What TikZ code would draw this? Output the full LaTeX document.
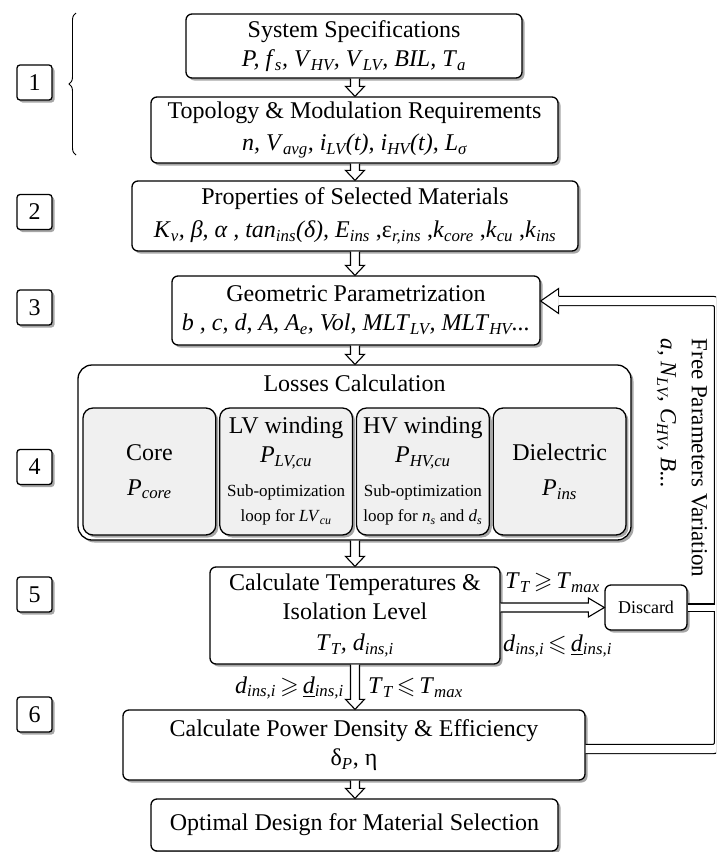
\documentclass[tikz,border=0pt]{standalone}
\usepackage{amsmath,amssymb}
\usepackage{fontspec}
\setmainfont{Liberation Serif}
\usetikzlibrary{calc,shadows,decorations.pathreplacing}
\newcommand\vv[1]{\textit{#1}}
\newcommand\sbs[1]{\ensuremath{_{\textit{#1}}}}
\newcommand\fs[2]{\fontsize{#1}{#2}\selectfont}
% hollow vertical arrow from #1 down to #2 at x of (ax)
\newcommand\hdown[2]{%
  \path ($(#1.south -| ax)$) coordinate (hA) ($(#2.north -| ax)$) coordinate (hB);
  \draw[harrow] ($(hA)+(-4.5,0)$) -- ($(hB)+(-4.5,-10)$) -- ($(hB)+(-9.5,-10)$) -- (hB)
     -- ($(hB)+(9.5,-10)$) -- ($(hB)+(4.5,-10)$) -- ($(hA)+(4.5,0)$);}
\begin{document}
\begin{tikzpicture}[x=1pt,y=-1pt,
  shade/.style={drop shadow={shadow xshift=2.5pt,shadow yshift=-2.5pt,opacity=.35,fill=black}},
  box/.style={draw,line width=1.3pt,rounded corners=6pt,fill=white,align=center,inner sep=0pt,font=\fs{24}{29},shade},
  subbox/.style={box,rounded corners=10pt,fill=gray!12},
  numbox/.style={draw,line width=1.3pt,rounded corners=3pt,fill=white,minimum width=35pt,minimum height=35pt,inner sep=0pt,font=\fs{24}{28},shade},
  txt/.style={inner sep=0pt,align=center,font=\fs{24}{29}},
  small/.style={inner sep=0pt,align=center,font=\fs{17}{25}},
  harrow/.style={draw,fill=white,line width=1.1pt,line join=miter},
  dbl/.style={line width=1.2pt,double=white}
]
\useasboundingbox (0,0) rectangle (716,852);
\clip (0,0) rectangle (716,852);
\fill[white] (0,0) rectangle (716,852);
\coordinate (ax) at (355,0);
\coordinate (lx) at (719,0);
\coordinate (lin) at (714.6,0);

% brace and step numbers
\draw[decorate,decoration={brace,amplitude=7pt},line width=0.9pt] (76,155) -- (76,13);
\node[numbox] (n1) at (34.5,82.5) {1};
\node[numbox] (n2) at (34.5,212) {2};
\node[numbox] (n3) at (34.5,307.5) {3};
\node[numbox] (n4) at (34.5,467) {4};
\node[numbox] (n5) at (34.5,594.5) {5};
\node[numbox] (n6) at (34.5,714.5) {6};

% main boxes
\node[box,minimum width=336pt,minimum height=64pt] (spec) at (354,46)
  {System Specifications\\\vv{P, f}\sbs{s}\vv{, V}\sbs{HV}\vv{, V}\sbs{LV}\vv{, BIL, T}\sbs{a}};
\node[box,minimum width=407pt,minimum height=66pt] (topo) at (354.5,130)
  {Topology \& Modulation Requirements\\[3pt]\vv{n, V}\sbs{avg}\vv{, i}\sbs{LV}\vv{(t), i}\sbs{HV}\vv{(t), L}\sbs{σ}};
\node[box,minimum width=446pt,minimum height=70pt] (prop) at (355,216)
  {Properties of Selected Materials\\[4pt]\vv{K}\sbs{v}\vv{, β, α , tan}\sbs{ins}\vv{(δ), E}\sbs{ins} ,ε\sbs{r,ins} ,\vv{k}\sbs{core} ,\vv{k}\sbs{cu} ,\vv{k}\sbs{ins}};
\node[box,minimum width=368pt,minimum height=69pt] (geom) at (356,310.5)
  {Geometric Parametrization\\\vv{b , c, d, A, A}\sbs{e}\vv{, Vol, MLT}\sbs{LV}\vv{, MLT}\sbs{HV}\vv{...}};

% losses
\node[box,rounded corners=14pt,minimum width=553pt,minimum height=175pt] (loss) at (354.5,452.5) {};
\node[txt] (losst) at (354.5,383) {Losses Calculation};
\node[subbox,minimum width=132.75pt,minimum height=127pt] (core) at (149.4,471.5) {Core\\[6pt]\vv{P}\sbs{core}};
\node[subbox,minimum width=132.75pt,minimum height=127pt] (lv) at (286.1,471.5) {};
\node[subbox,minimum width=132.75pt,minimum height=127pt] (hv) at (422.9,471.5) {};
\node[subbox,minimum width=132.75pt,minimum height=127pt] (diel) at (559.6,471.5) {Dielectric\\[6pt]\vv{P}\sbs{ins}};
\node[txt] (lvt) at (286.1,443) {LV winding\\\vv{P}\sbs{LV,cu}};
\node[small] (lvs) at (286.1,505) {Sub-optimization\\loop for \vv{LV}\sbs{cu}};
\node[txt] (hvt) at (422.9,443) {HV winding\\\vv{P}\sbs{HV,cu}};
\node[small] (hvs) at (422.9,505) {Sub-optimization\\loop for \vv{n}\sbs{s} and \vv{d}\sbs{s}};

\node[box,minimum width=290pt,minimum height=97pt] (temp) at (355,615.5)
  {Calculate Temperatures \&\\Isolation Level\\[2pt]\vv{T}\sbs{T}\vv{, d}\sbs{ins,i}};
\node[box,font=\fs{18}{20},minimum width=82pt,minimum height=45pt] (disc) at (646,607.5) {Discard};
\node[box,minimum width=462pt,minimum height=70pt] (power) at (354,745)
  {Calculate Power Density \& Efficiency\\δ\sbs{P}, η};
\node[box,minimum width=407pt,minimum height=52pt] (opt) at (354.5,825) {Optimal Design for Material Selection};

% labels
\node[txt,anchor=west] (lt1) at (505,583) {\vv{T}\sbs{T}\,$\geqslant$\,\vv{T}\sbs{max}};
\node[txt,anchor=west] (lt2) at (503,646) {\vv{d}\sbs{ins,i}\,$\leqslant$\,\underline{\vv{d}}\sbs{ins,i}};
\node[txt,anchor=east] (lb1) at (344,688) {\vv{d}\sbs{ins,i}\,$\geqslant$\,\underline{\vv{d}}\sbs{ins,i}};
\node[txt,anchor=west] (lb2) at (368,688) {\vv{T}\sbs{T}\,$\leqslant$\,\vv{T}\sbs{max}};
\node[txt,rotate=-90,align=left,font=\fs{23}{31}] (free) at (682,458)
  {Free Parameters Variation\\\vv{a, N}\sbs{LV}\vv{, C}\sbs{HV}\vv{, B...}};

% vertical hollow arrows
\hdown{spec}{topo}
\hdown{topo}{prop}
\hdown{prop}{geom}
\hdown{geom}{loss}
\hdown{loss}{temp}
\hdown{temp}{power}
\hdown{power}{opt}

% temp -> discard
\path (temp.east |- disc.west) coordinate (dA) (disc.west) coordinate (dB);
\draw[harrow] ($(dA)+(0,-4.5)$) -- ($(dB)+(-16,-4.5)$) -- ($(dB)+(-16,-9.5)$) -- (dB)
   -- ($(dB)+(-16,9.5)$) -- ($(dB)+(-16,4.5)$) -- ($(dA)+(0,4.5)$);

% feedback loop
\path ($(geom.east)+(0,-9.5)$) coordinate (gT);
\draw[dbl,double distance=8pt,rounded corners=6pt] ($(power.east)+(0,4)$) -- ($(power.east -| lx)+(0,4)$)
   -- (gT -| lx) -- ($(gT)+(18,0)$);
\draw[harrow] ($(gT)+(18,-4.6)$) -- ($(gT)+(18,-12.5)$) -- (gT) -- ($(gT)+(18,12.5)$) -- ($(gT)+(18,4.6)$);
\draw[dbl,double distance=6pt] (disc.east) -- (disc.east -| lin);
\end{tikzpicture}
\end{document}
